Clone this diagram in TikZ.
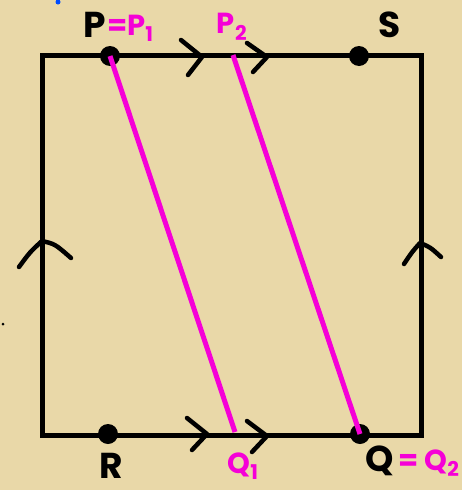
\documentclass[tikz,border=0pt]{standalone}
\usepackage{fontspec}
\setmainfont{Poppins}
\definecolor{parch}{RGB}{233,216,168}
\definecolor{mag}{RGB}{245,0,215}
\begin{document}
\begin{tikzpicture}[x=1pt,y=-1pt,
  edge/.style={line width=5pt,black,line cap=round,line join=miter},
  pline/.style={line width=5pt,mag},
  chev/.style={line width=4.5pt,black,line cap=round,line join=round},
  dotc/.style={circle,fill=black,inner sep=0pt,minimum size=20pt},
  blab/.style={text=black,font=\fontsize{36}{36}\selectfont\bfseries,inner sep=0pt},
  mlab/.style={text=mag,font=\fontsize{29}{29}\selectfont\bfseries,inner sep=0pt}]
\fill[parch] (0,0) rectangle (462,490);
\useasboundingbox (0,0) rectangle (462,490);
% corners
\coordinate (TL) at (42,55);
\coordinate (TR) at (421,55);
\coordinate (BR) at (421,435);
\coordinate (BL) at (42,435);
\draw[edge] (TL) -- (TR) -- (BR) -- (BL) -- cycle;
% points
\node[dotc] (P) at (110,56) {};
\node[dotc] (S) at (359,56) {};
\node[dotc] (R) at (108,434) {};
\node[dotc] (Q) at (360,434) {};
\coordinate (P2) at (233,55);
\coordinate (Q1) at (235,432);
\draw[pline] (P.center) -- (Q1);
\draw[pline] (P2) -- (Q.center);
% chevrons top
\coordinate (a1) at (181,40); \coordinate (a2) at (202,57); \coordinate (a3) at (188,75);
\coordinate (b1) at (247,43); \coordinate (b2) at (267,57); \coordinate (b3) at (253,72);
\draw[chev] (a1) -- (a2) -- (a3);
\draw[chev] (b1) -- (b2) -- (b3);
% chevrons bottom
\coordinate (c1) at (187,418); \coordinate (c2) at (207,434); \coordinate (c3) at (192,450);
\coordinate (d1) at (247,421); \coordinate (d2) at (267,436); \coordinate (d3) at (252,452);
\draw[chev] (c1) -- (c2) -- (c3);
\draw[chev] (d1) -- (d2) -- (d3);
% chevrons sides
\coordinate (e1) at (19,267); \coordinate (e2) at (42,241); \coordinate (e3) at (71,258);
\coordinate (f1) at (404,264); \coordinate (f2) at (420,243); \coordinate (f3) at (441,257);
\draw[chev] (e1) .. controls (30,252) .. (e2) .. controls (55,244) .. (e3);
\draw[chev] (f1) .. controls (412,252) .. (f2) .. controls (430,247) .. (f3);
% labels
\node[blab] (lP) at (95,25) {P};
\node[mlab,anchor=west] (lP1) at (107,28) {=P\textsubscript{1}};
\node[mlab] (lP2) at (232,27) {P\textsubscript{2}};
\node[blab] (lS) at (390,25) {S};
\node[blab] (lR) at (111,466) {R};
\node[mlab] (lQ1) at (243,466) {Q\textsubscript{1}};
\node[blab] (lQ) at (380,461) {Q};
\node[mlab,anchor=west] (lQ2) at (398,463) {= Q\textsubscript{2}};
% stray marks
\fill[blue!70!cyan] (58,2) circle (2.5pt);
\fill[black] (3,324) circle (1.5pt);
\end{tikzpicture}
\end{document}
